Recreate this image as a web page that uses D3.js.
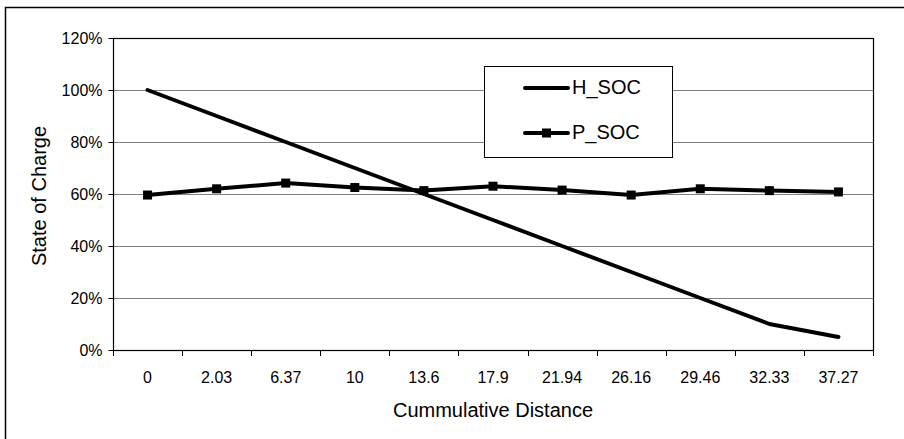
<!DOCTYPE html>
<html>
<head>
<meta charset="utf-8">
<script src="https://cdn.jsdelivr.net/npm/d3@7"></script>
<style>
  body { margin: 0; background: #fff; }
  text { font-family: "Liberation Sans", Arial, sans-serif; fill: #000; }
</style>
</head>
<body>
<div id="chart"></div>
<script>
// dados
var distancias = ["0", "2.03", "6.37", "10", "13.6", "17.9", "21.94", "26.16", "29.46", "32.33", "37.27"];
var hSoc = [1.00, 0.90, 0.80, 0.70, 0.60, 0.50, 0.40, 0.30, 0.20, 0.10, 0.05];
var pSoc = [0.596, 0.62, 0.642, 0.625, 0.613, 0.63, 0.615, 0.596, 0.62, 0.613, 0.608];
var yTicks = [0, 0.2, 0.4, 0.6, 0.8, 1.0, 1.2];

const W = 904, H = 439;
const pLeft = 113, pRight = 873, pTop = 38, pBottom = 350;

var svg = d3.select('#chart').append('svg')
    .attr('width', W)
    .attr('height', H);

// moldura externa
svg.append('rect')
    .attr('x', 5.5).attr('y', 7.5)
    .attr('width', W).attr('height', H)
    .attr('fill', 'none').attr('stroke', '#000').attr('stroke-width', 1.5);

var x = d3.scaleBand().domain(distancias).range([pLeft, pRight]);
var y = d3.scaleLinear().domain([0, 1.2]).range([pBottom, pTop]);

// grade horizontal
svg.append('g')
    .selectAll('line')
    .data(yTicks.slice(1, -1))
    .join('line')
    .attr('x1', pLeft).attr('x2', pRight)
    .attr('y1', d => Math.round(y(d)) + 0.5).attr('y2', d => Math.round(y(d)) + 0.5)
    .attr('stroke', '#808080').attr('stroke-width', 1);

// borda da area do grafico
svg.append('rect')
    .attr('x', pLeft + 0.5).attr('y', pTop + 0.5)
    .attr('width', pRight - pLeft).attr('height', pBottom - pTop)
    .attr('fill', 'none').attr('stroke', '#000').attr('stroke-width', 1.2);

// eixo y
var yAxis = svg.append('g')
    .attr('transform', `translate(${pLeft + 0.5},0)`)
    .call(d3.axisLeft(y).tickValues(yTicks).tickFormat(d3.format('.0%')).tickSize(5).tickPadding(6));
yAxis.select('.domain').remove();
yAxis.selectAll('text').style('font-size', '16px').attr('dy', '0.36em');

// eixo x: marcas nas divisas das categorias
var bordas = distancias.map(d => x(d)).concat([pRight]);
svg.append('g')
    .selectAll('line')
    .data(bordas)
    .join('line')
    .attr('x1', d => Math.round(d) + 0.5).attr('x2', d => Math.round(d) + 0.5)
    .attr('y1', pBottom).attr('y2', pBottom + 6)
    .attr('stroke', '#000');

svg.append('g')
    .selectAll('text')
    .data(distancias)
    .join('text')
    .attr('x', d => x(d) + x.bandwidth() / 2)
    .attr('y', 383)
    .attr('text-anchor', 'middle')
    .style('font-size', '16px')
    .text(d => d);

// titulos dos eixos
svg.append('text')
    .attr('x', 493).attr('y', 417)
    .attr('text-anchor', 'middle')
    .style('font-size', '20px')
    .text('Cummulative Distance');

svg.append('text')
    .attr('transform', `translate(46,196) rotate(-90)`)
    .attr('text-anchor', 'middle')
    .style('font-size', '20px')
    .text('State of Charge');

var cx = d => x(d) + x.bandwidth() / 2;
var linha = d3.line().x((d, i) => cx(distancias[i])).y(d => y(d));

// legenda (fundo branco cobre a grade)
var leg = svg.append('g');
leg.append('rect')
    .attr('x', 484.5).attr('y', 66.5)
    .attr('width', 188).attr('height', 91)
    .attr('fill', '#fff').attr('stroke', '#000').attr('stroke-width', 1);

// series
svg.append('path')
    .datum(hSoc)
    .attr('d', linha)
    .attr('fill', 'none').attr('stroke', '#000').attr('stroke-width', 4)
    .attr('stroke-linejoin', 'round').attr('stroke-linecap', 'round');

svg.append('path')
    .datum(pSoc)
    .attr('d', linha)
    .attr('fill', 'none').attr('stroke', '#000').attr('stroke-width', 4)
    .attr('stroke-linejoin', 'round');

svg.append('g')
    .selectAll('rect')
    .data(pSoc)
    .join('rect')
    .attr('x', (d, i) => cx(distancias[i]) - 4.5)
    .attr('y', d => y(d) - 4.5)
    .attr('width', 9).attr('height', 9)
    .attr('fill', '#000');

var itens = [{nome: 'H_SOC', y: 88, marca: false}, {nome: 'P_SOC', y: 133, marca: true}];
itens.forEach(function (it) {
    leg.append('line')
        .attr('x1', 525).attr('x2', 568)
        .attr('y1', it.y).attr('y2', it.y)
        .attr('stroke', '#000').attr('stroke-width', 4).attr('stroke-linecap', 'round');
    if (it.marca) {
        leg.append('rect')
            .attr('x', 542).attr('y', it.y - 4.5)
            .attr('width', 9).attr('height', 9).attr('fill', '#000');
    }
    leg.append('text')
        .attr('x', 572).attr('y', it.y + 6)
        .style('font-size', '20px')
        .text(it.nome);
});
</script>
</body>
</html>
